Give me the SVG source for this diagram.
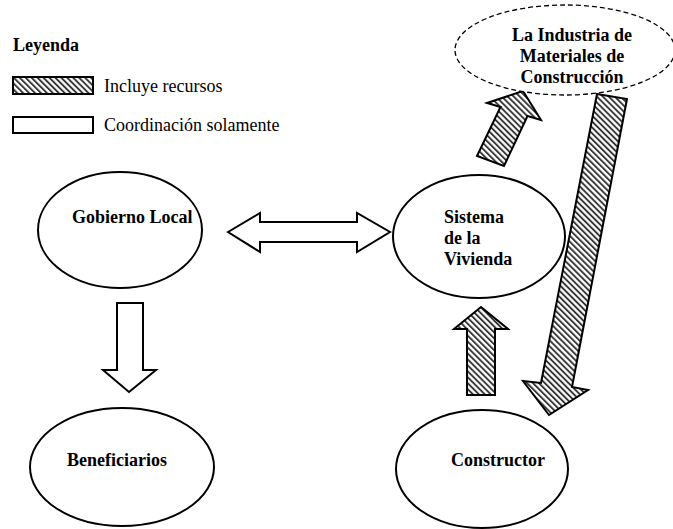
<svg xmlns="http://www.w3.org/2000/svg" width="673" height="529" viewBox="0 0 673 529">
  <defs>
    <!-- diagonal hatching used for resource flows -->
    <pattern id="hatch" patternUnits="userSpaceOnUse" width="4.2" height="4.2" patternTransform="rotate(-45)">
      <rect x="0" y="0" width="4.2" height="4.2" fill="#ffffff"/>
      <line x1="1" y1="0" x2="1" y2="4.2" stroke="#2a2a2a" stroke-width="1.8"/>
    </pattern>
  </defs>
  <style>
    text { font-family: "Liberation Serif", "Times New Roman", serif; font-size: 18px; fill: #000; }
    .b { font-weight: bold; }
    .node { fill: #ffffff; stroke: #000; stroke-width: 2; }
    .dashed { fill: #ffffff; stroke: #000; stroke-width: 1.3; stroke-dasharray: 5 3; }
    .res { fill: url(#hatch); stroke: #000; stroke-width: 2; stroke-linejoin: miter; }
    .coord { fill: #ffffff; stroke: #000; stroke-width: 2; stroke-linejoin: miter; }
  </style>
  <rect width="673" height="529" fill="#ffffff"/>

  <!-- legend -->
  <g id="legend">
    <text class="b" x="13" y="51">Leyenda</text>
    <rect class="res" x="13" y="77" width="80" height="17"/>
    <text x="104" y="92">Incluye recursos</text>
    <rect class="coord" x="13" y="117" width="80" height="16"/>
    <text x="104" y="131">Coordinación solamente</text>
  </g>

  <!-- connectors -->
  <g id="connectors">
    <!-- Gobierno Local <-> Sistema de la Vivienda -->
    <polygon class="coord" points="228,232 260,213 260,222 357,222 357,213 390,232 357,252 357,242 260,242 260,252"/>
    <!-- Gobierno Local -> Beneficiarios -->
    <polygon class="coord" points="117,303 143,303 143,370 156,370 129,392 103,370 117,370"/>
    <!-- Constructor -> Sistema de la Vivienda -->
    <polygon class="res" points="467,395 495,395 495,329 508,329 481,307 454,329 467,329"/>
    <!-- Sistema de la Vivienda -> Industria -->
    <polygon class="res" points="523,91 541,120 527.5,116 504,166 477,156 500.5,107 487,103"/>
    <!-- Industria -> Constructor -->
    <polygon class="res" points="597,94 627,99 572,387 588,390 549,415 523,381 541,383"/>
  </g>

  <!-- nodes -->
  <g id="industria">
    <ellipse class="dashed" cx="565" cy="50" rx="110" ry="45"/>
    <text class="b" x="572" y="41" text-anchor="middle">La Industria de</text>
    <text class="b" x="572" y="62" text-anchor="middle">Materiales de</text>
    <text class="b" x="572" y="83" text-anchor="middle">Construcción</text>
  </g>

  <g id="gobierno">
    <ellipse class="node" cx="120" cy="230" rx="82" ry="58"/>
    <text class="b" x="72" y="223">Gobierno Local</text>
  </g>

  <g id="sistema">
    <ellipse class="node" cx="479" cy="236.5" rx="86" ry="61.5"/>
    <text class="b" x="444" y="223">Sistema</text>
    <text class="b" x="444" y="244">de la</text>
    <text class="b" x="444" y="265">Vivienda</text>
  </g>

  <g id="beneficiarios">
    <ellipse class="node" cx="122" cy="467" rx="92" ry="59"/>
    <text class="b" x="67" y="466">Beneficiarios</text>
  </g>

  <g id="constructor">
    <ellipse class="node" cx="482" cy="469" rx="86" ry="59"/>
    <text class="b" x="451" y="466">Constructor</text>
  </g>
</svg>
